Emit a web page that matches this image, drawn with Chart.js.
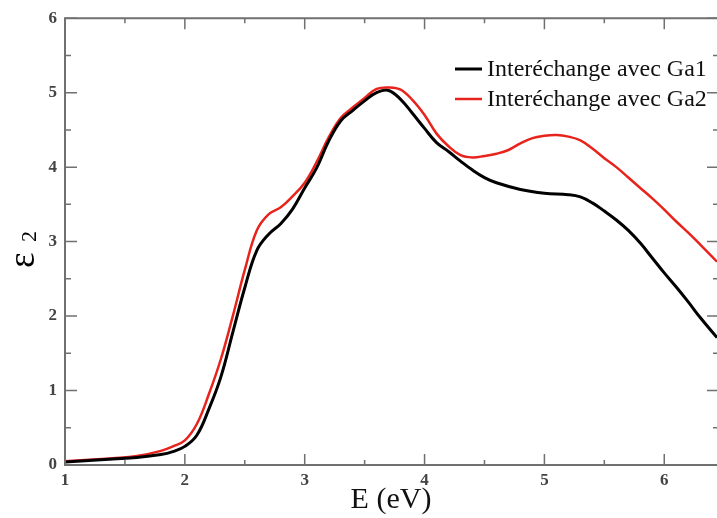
<!DOCTYPE html>
<html>
<head>
<meta charset="utf-8">
<script src="https://cdn.jsdelivr.net/npm/chart.js@4.4.1/dist/chart.umd.min.js"></script>
<style>
  html, body { margin: 0; padding: 0; background: #fff; }
  #wrap { width: 717px; height: 518px; position: relative; }
</style>
</head>
<body>
<div id="wrap"><canvas id="eps2Chart"></canvas></div>
<script>
// energie (eV)
const energyGa1 = [1.0, 1.2, 1.4, 1.6, 1.8, 1.9, 2.0, 2.1, 2.2, 2.3, 2.4, 2.5, 2.6, 2.7, 2.8, 2.9, 3.0,
    3.1, 3.2, 3.3, 3.4, 3.5, 3.6, 3.7, 3.8, 3.9, 4.0, 4.1, 4.2, 4.3, 4.4, 4.5, 4.6, 4.8, 5.0,
    5.2, 5.3, 5.4, 5.5, 5.6, 5.7, 5.8, 5.9, 6.0, 6.1, 6.2, 6.3, 6.44];
const eps2Ga1 = [0.04, 0.06, 0.08, 0.10, 0.14, 0.18, 0.25, 0.40, 0.75, 1.18, 1.78, 2.38, 2.88, 3.10, 3.24, 3.44, 3.72,
    3.99, 4.35, 4.62, 4.76, 4.89, 5.00, 5.03, 4.91, 4.72, 4.52, 4.33, 4.21, 4.08, 3.96, 3.86, 3.79, 3.70, 3.65,
    3.63, 3.60, 3.52, 3.41, 3.29, 3.15, 2.98, 2.78, 2.58, 2.39, 2.19, 1.98, 1.71];

const energyGa2 = [1.0, 1.2, 1.4, 1.6, 1.8, 1.9, 2.0, 2.1, 2.2, 2.3, 2.4, 2.5, 2.6, 2.7, 2.8, 2.9, 3.0,
    3.1, 3.2, 3.3, 3.4, 3.5, 3.6, 3.7, 3.8, 3.9, 4.0, 4.1, 4.2, 4.3, 4.4, 4.5, 4.6, 4.7, 4.8, 4.9, 5.0,
    5.1, 5.2, 5.3, 5.4, 5.5, 5.6, 5.7, 5.8, 5.9, 6.0, 6.1, 6.2, 6.3, 6.44];
const eps2Ga2 = [0.05, 0.07, 0.09, 0.12, 0.19, 0.25, 0.33, 0.55, 0.95, 1.42, 2.00, 2.62, 3.15, 3.37, 3.46, 3.61, 3.79,
    4.07, 4.40, 4.66, 4.80, 4.93, 5.05, 5.07, 5.04, 4.90, 4.70, 4.45, 4.28, 4.16, 4.13, 4.15, 4.18, 4.23, 4.32, 4.39, 4.42,
    4.43, 4.41, 4.36, 4.25, 4.12, 4.00, 3.86, 3.72, 3.58, 3.43, 3.27, 3.12, 2.96, 2.73];

const seriesLabels = ['Interéchange avec Ga1', 'Interéchange avec Ga2'];
const seriesColors = ['#000000', '#e8231c'];
const xTicks = [1, 2, 3, 4, 5, 6];
const yTicks = [0, 1, 2, 3, 4, 5, 6];

function toPoints(xs, ys) {
    return xs.map((x, i) => ({ x: x, y: ys[i] }));
}

const FRAME = '#707070';
const SERIF = '"Liberation Serif", "Times New Roman", serif';

// cadre + graduations vers l'intérieur
const framePlugin = {
    id: 'frame',
    afterDraw(chart) {
        const { ctx, chartArea: a, scales } = chart;
        const xs = scales.x, ys = scales.y;
        const right = a.right + 2;
        ctx.save();
        ctx.strokeStyle = FRAME;
        ctx.lineWidth = 2;
        ctx.beginPath();
        ctx.moveTo(right, a.top);
        ctx.lineTo(a.left, a.top);
        ctx.lineTo(a.left, a.bottom);
        ctx.lineTo(right, a.bottom);
        ctx.stroke();

        ctx.lineWidth = 1.5;
        ctx.beginPath();
        for (let v = 1; v <= 6.5; v += 0.5) {
            const px = xs.getPixelForValue(v);
            if (px > a.right) break;
            const len = Number.isInteger(v) ? 11 : 5;
            ctx.moveTo(px, a.bottom); ctx.lineTo(px, a.bottom - len);
            ctx.moveTo(px, a.top); ctx.lineTo(px, a.top + len);
        }
        for (let v = 0; v <= 6; v += 0.5) {
            const py = ys.getPixelForValue(v);
            const len = Number.isInteger(v) ? 12 : 6;
            ctx.moveTo(a.left, py); ctx.lineTo(a.left + len, py);
            ctx.moveTo(right, py); ctx.lineTo(right - len, py);
        }
        ctx.stroke();

        // titre de l'axe y : epsilon indice 2
        ctx.fillStyle = '#000';
        ctx.translate(34, 268);
        ctx.rotate(-Math.PI / 2);
        ctx.textBaseline = 'alphabetic';
        ctx.font = '37px ' + SERIF;
        ctx.fillText('ε', 0, 0);
        ctx.font = '22px ' + SERIF;
        ctx.fillText('2', 26, 2);
        ctx.restore();

        // légende
        ctx.save();
        ctx.font = '24px ' + SERIF;
        ctx.textBaseline = 'middle';
        seriesLabels.forEach((lab, i) => {
            const y = 69 + i * 30;
            ctx.strokeStyle = seriesColors[i];
            ctx.lineWidth = i === 0 ? 3 : 2.5;
            ctx.beginPath();
            ctx.moveTo(455, y); ctx.lineTo(482, y);
            ctx.stroke();
            ctx.fillStyle = '#111';
            ctx.fillText(lab, 487, y + 1);
        });
        ctx.restore();
    }
};

const config = {
    type: 'line',
    data: {
        datasets: [{
            label: seriesLabels[0],
            data: toPoints(energyGa1, eps2Ga1),
            borderColor: seriesColors[0],
            borderWidth: 3
        }, {
            label: seriesLabels[1],
            data: toPoints(energyGa2, eps2Ga2),
            borderColor: seriesColors[1],
            borderWidth: 2.5
        }]
    },
    options: {
        responsive: false,
        animation: false,
        layout: { padding: { top: 15, right: 0, left: 0, bottom: 0 } },
        elements: {
            point: { radius: 0 },
            line: { tension: 0.4, fill: false }
        },
        scales: {
            x: {
                type: 'linear',
                min: 1,
                max: 6.44,
                grid: { display: false, drawTicks: false },
                border: { display: false },
                afterFit(s) { s.height = 53; },
                afterBuildTicks(s) { s.ticks = xTicks.map(v => ({ value: v })); },
                ticks: {
                    padding: 5,
                    color: '#444',
                    font: { family: SERIF, size: 17, weight: 'bold' }
                },
                title: {
                    display: true,
                    text: 'E (eV)',
                    color: '#111',
                    padding: { top: -3, bottom: 0 },
                    font: { family: SERIF, size: 30 }
                }
            },
            y: {
                min: 0,
                max: 6,
                grid: { display: false, drawTicks: false },
                border: { display: false },
                afterFit(s) { s.width = 65; },
                afterBuildTicks(s) { s.ticks = yTicks.map(v => ({ value: v })); },
                ticks: {
                    padding: 8,
                    color: '#444',
                    font: { family: SERIF, size: 17, weight: 'bold' }
                }
            }
        },
        plugins: {
            legend: { display: false },
            tooltip: { enabled: false }
        }
    },
    plugins: [framePlugin]
};

const canvas = document.getElementById('eps2Chart');
canvas.width = 717;
canvas.height = 518;
new Chart(canvas.getContext('2d'), config);
</script>
</body>
</html>
